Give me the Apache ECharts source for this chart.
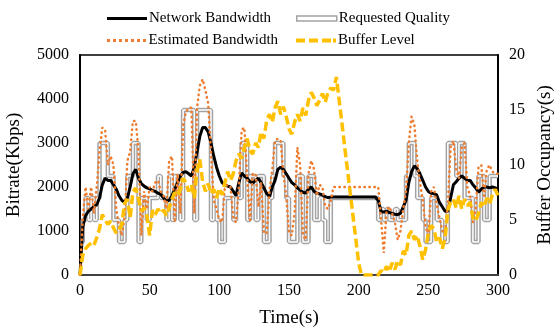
<!DOCTYPE html>
<html>
<head>
<meta charset="utf-8">
<script src="https://cdn.jsdelivr.net/npm/echarts@6/dist/echarts.min.js"></script>
<style>
  html, body { margin: 0; padding: 0; background: #fff; }
  #chart { width: 555px; height: 332px; }
</style>
</head>
<body>
<div id="chart"></div>
<script>
// one sample every 2 s, t = 0..300
const STEP = 2;
const xTicks = [0, 50, 100, 150, 200, 250, 300];
const bitrateTicks = [0, 1000, 2000, 3000, 4000, 5000];
const bufferTicks = [0, 5, 10, 15, 20];

const networkBw = [
  0, 1100, 1350, 1450, 1500, 1550, 1600, 1750, 2050, 2200,
  2150, 2150, 2050, 1950, 1800, 1700, 1650, 1750, 2000, 2300,
  2400, 2200, 2080, 2020, 1980, 1960, 1920, 1900, 1860, 1830,
  1750, 1680, 1700, 1800, 1950, 2100, 2250, 2330, 2350, 2300,
  2250, 2450, 2800, 3150, 3350, 3350, 3250, 3000, 2700, 2450,
  2250, 2100, 2050, 2020, 2000, 1900, 1800, 2100, 2320, 2250,
  2200, 2120, 2090, 2150, 2200, 2100, 1980, 1850, 1780, 2000,
  2150, 2400, 2450, 2400, 2300, 2200, 2100, 2050, 1980, 1930,
  1880, 1860, 1950, 2000, 1900, 1860, 1840, 1820, 1780, 1760,
  1770, 1770, 1770, 1770, 1770, 1770, 1770, 1770, 1770, 1770,
  1770, 1770, 1770, 1770, 1770, 1770, 1770, 1700, 1450, 1430,
  1450, 1420, 1400, 1380, 1370, 1400, 1550, 1700, 2100, 2350,
  2480, 2420, 2300, 2150, 2000, 1900, 1860, 1850, 1820, 1650,
  1550, 1450, 1450, 1750, 2050, 2120, 2200, 2250, 2200, 2150,
  2150, 2050, 1980, 1880, 1950, 2000, 2000, 1980, 2000, 1980,
  1950
];

const requested = [
  750, 1250, 1750, 1250, 1750, 1250, 1750, 3000, 3000, 3000,
  2250, 2250, 1250, 1250, 750, 750, 1250, 2250, 2250, 3000,
  3000, 750, 1750, 1750, 1250, 1750, 1750, 1750, 2250, 1750,
  1750, 1250, 2250, 1250, 2250, 2250, 1250, 3750, 3750, 3750,
  3750, 1250, 3750, 3750, 3750, 3750, 3750, 1250, 1750, 1250,
  750, 750, 1750, 1750, 1750, 1250, 1750, 1750, 3000, 3000,
  1250, 2250, 2250, 1250, 2250, 2250, 750, 750, 1750, 2250,
  3000, 3000, 3000, 2250, 1750, 750, 750, 750, 2250, 2250,
  750, 750, 2250, 2250, 1250, 1250, 1750, 1250, 750, 750,
  1750, 1750, 1750, 1750, 1750, 1750, 1750, 1750, 1750, 1750,
  1750, 1750, 1750, 1750, 1750, 1750, 1750, 1250, 1500, 1250,
  1500, 1250, 1250, 1500, 1250, 1250, 1250, 2250, 3000, 3000,
  2250, 1750, 1750, 1250, 750, 750, 1750, 1750, 1250, 1250,
  750, 750, 3000, 3000, 3000, 2250, 3000, 3000, 1750, 1750,
  1750, 750, 750, 2250, 2250, 1250, 1250, 2250, 2250, 2250,
  2250
];

const estimatedBw = [
  0, 1300, 2000, 1500, 2000, 1400, 2000, 2800, 3350, 3300,
  2500, 2700, 2500, 1500, 1100, 900, 1300, 2600, 2800, 3500,
  3500, 2800, 900, 1900, 1500, 2000, 1900, 2100, 2150, 1900,
  1800, 1500, 2600, 2700, 1200, 2300, 1400, 3400, 3700, 3800,
  3800, 1400, 3800, 4300, 4450, 4200, 3900, 2800, 1700, 1500,
  1250, 1200, 2000, 2050, 2000, 1300, 1200, 2000, 3300, 3350,
  2200, 1250, 2300, 2300, 1550, 2100, 950, 950, 1900, 2400,
  3050, 3100, 3050, 2300, 1800, 950, 900, 1400, 2900, 2500,
  900, 800, 2300, 2600, 2400, 1800, 2050, 2000, 1550, 1500,
  1700, 2000, 2000, 2000, 2000, 2000, 2000, 2000, 2000, 2000,
  2000, 2000, 2000, 2000, 2000, 2000, 2000, 2000, 1300, 500,
  1450, 1550, 1400, 1200, 800, 1000, 1500, 1900, 3000, 3600,
  3400, 2600, 2100, 1700, 1100, 900, 1900, 2000, 1600, 1300,
  1000, 950, 1600, 2900, 3050, 2400, 2200, 2900, 3000, 2000,
  1800, 1200, 1500, 2450, 2500, 1800, 2400, 2500, 2350, 2300,
  2300
];

const bufferLevel = [
  0, 1.8, 2.4, 2.7, 2.9, 2.7, 3.4, 4.2, 5.5, 5.0,
  4.6, 4.9, 4.3, 3.8, 4.1, 4.6, 6.5, 6.9, 5.2, 7.6,
  7.9, 6.9, 5.8, 6.1, 5.4, 3.6, 5.9, 5.5, 6.0, 5.6,
  5.9, 5.4, 6.1, 6.9, 7.5, 7.2, 7.8, 8.8, 8.4, 7.6,
  8.2, 7.0, 9.5, 10.5, 8.5, 7.6, 8.3, 7.4, 7.8, 7.0,
  7.9, 7.3, 8.4, 9.4, 8.6, 9.2, 10.4, 11.0, 10.6, 11.6,
  12.4, 11.3, 11.0, 12.0, 11.6, 13.0, 12.4, 14.1, 14.6, 13.9,
  15.2, 15.8, 14.6, 15.3, 14.4, 13.3, 12.8, 13.9, 14.6, 14.0,
  15.2, 14.5, 15.9, 16.6, 16.1, 15.4, 15.9, 16.5, 15.7, 16.6,
  17.0, 16.8, 18.0, 15.9, 13.8, 11.6, 9.5, 7.4, 5.3, 3.2,
  1.1, 0, 0, 0, 0, 0, 0, 0, 0.4, 0.2,
  0.8, 0.3, 1.1, 0.5, 1.3, 0.9, 2.2, 1.8, 3.6, 4.0,
  3.2, 3.6, 2.6, 1.4, 2.3, 3.8, 4.5, 4.2, 3.0, 3.4,
  2.4, 3.3, 5.9, 6.6, 6.9, 6.1, 7.2, 6.0, 6.9, 6.3,
  6.6, 5.2, 4.9, 5.6, 6.6, 6.2, 7.0, 6.5, 7.3, 7.8,
  7.2
];

const toPoints = (arr) => arr.map((v, i) => [i * STEP, v]);

const FONT = "'Liberation Serif', 'Times New Roman', serif";
const GRAY = '#a3a3a3';
const ORANGE = '#ed7d31';
const GOLD = '#ffc000';

// legend icons drawn as small paths, 40px wide
const ICON_SOLID = 'path://M0,0h40v3h-40z';
const ICON_DOUBLE = 'path://M0,0h40v5h-40z';
const ICON_DOTS = 'path://M0,0h3v3h-3z M6,0h3v3h-3z M12,0h3v3h-3z M18,0h3v3h-3z M24,0h3v3h-3z M30,0h3v3h-3z M36,0h3v3h-3z';
const ICON_DASH = 'path://M0,0h9v4h-9z M13,0h9v4h-9z M26,0h9v4h-9z M37,0h3v4h-3z';

const legendBase = {
  itemWidth: 40,
  itemGap: 0,
  selectedMode: false,
  textStyle: { fontFamily: FONT, fontSize: 15, color: '#000', padding: [0, 0, 0, -3] },
};

const axisText = { fontFamily: FONT, fontSize: 16, color: '#000' };
const nameText = { fontFamily: FONT, fontSize: 19, color: '#000' };

const chart = echarts.init(document.getElementById('chart'));
chart.setOption({
  animation: false,
  backgroundColor: '#fff',
  grid: {
    left: 80, right: 57, top: 55, bottom: 57,
    containLabel: false,
    outerBoundsMode: 'none',
    show: true, borderColor: '#000', borderWidth: 1.5,
  },
  legend: [
    {
      ...legendBase, left: 102, top: 6, itemHeight: 3,
      data: [{ name: 'Network Bandwidth', icon: ICON_SOLID, itemStyle: { color: '#000' } }],
    },
    {
      ...legendBase, left: 291, top: 6, itemHeight: 5,
      data: [{
        name: 'Requested Quality',
        icon: ICON_DOUBLE,
        itemStyle: { color: '#fff', borderColor: GRAY, borderWidth: 1.5 },
      }],
    },
    {
      ...legendBase, left: 102, top: 28, itemHeight: 3,
      data: [{ name: 'Estimated Bandwidth', icon: ICON_DOTS, itemStyle: { color: ORANGE } }],
    },
    {
      ...legendBase, left: 291, top: 28, itemHeight: 4,
      data: [{ name: 'Buffer Level', icon: ICON_DASH, itemStyle: { color: GOLD } }],
    },
  ],
  xAxis: {
    type: 'value',
    min: xTicks[0],
    max: xTicks[xTicks.length - 1],
    interval: 50,
    name: 'Time(s)',
    nameLocation: 'middle',
    nameGap: 34,
    nameTextStyle: nameText,
    axisLine: { show: true, lineStyle: { color: '#404040', width: 2 } },
    axisTick: { show: false },
    splitLine: { show: false },
    axisLabel: { ...axisText, margin: 8 },
  },
  yAxis: [
    {
      type: 'value',
      position: 'left',
      min: bitrateTicks[0],
      max: bitrateTicks[bitrateTicks.length - 1],
      interval: 1000,
      name: 'Bitrate(Kbps)',
      nameLocation: 'middle',
      nameRotate: 90,
      nameGap: 56,
      nameTextStyle: nameText,
      axisLine: { show: true, lineStyle: { color: '#000', width: 2 } },
      axisTick: { show: false },
      splitLine: { show: false },
      axisLabel: { ...axisText, margin: 11, formatter: (v) => String(v) },
    },
    {
      type: 'value',
      position: 'right',
      min: bufferTicks[0],
      max: bufferTicks[bufferTicks.length - 1],
      interval: 5,
      name: 'Buffer Occupancy(s)',
      nameLocation: 'middle',
      nameRotate: 90,
      nameGap: 38,
      nameTextStyle: nameText,
      axisLine: { show: true, lineStyle: { color: '#000', width: 2 } },
      axisTick: { show: false },
      splitLine: { show: false },
      axisLabel: { ...axisText, margin: 11, formatter: (v) => String(v) },
    },
  ],
  series: [
    {
      name: 'Requested Quality',
      type: 'line',
      step: 'end',
      symbol: 'none',
      data: toPoints(requested),
      itemStyle: { color: GRAY },
      lineStyle: { color: GRAY, width: 4.5 },
      z: 1,
    },
    {
      name: 'requested-inner',
      type: 'line',
      step: 'end',
      symbol: 'none',
      silent: true,
      data: toPoints(requested),
      lineStyle: { color: '#fff', width: 1.5 },
      z: 2,
    },
    {
      name: 'Network Bandwidth',
      type: 'line',
      symbol: 'none',
      data: toPoints(networkBw),
      itemStyle: { color: '#000' },
      lineStyle: { color: '#000', width: 3 },
      z: 3,
    },
    {
      name: 'Estimated Bandwidth',
      type: 'line',
      symbol: 'none',
      data: toPoints(estimatedBw),
      itemStyle: { color: ORANGE },
      lineStyle: { color: ORANGE, width: 2.5, type: [0.5, 4.5], cap: 'round' },
      z: 4,
    },
    {
      name: 'Buffer Level',
      type: 'line',
      yAxisIndex: 1,
      symbol: 'none',
      data: toPoints(bufferLevel),
      itemStyle: { color: GOLD },
      lineStyle: { color: GOLD, width: 3.5, type: [9, 4] },
      z: 5,
    },
  ],
});
</script>
</body>
</html>
